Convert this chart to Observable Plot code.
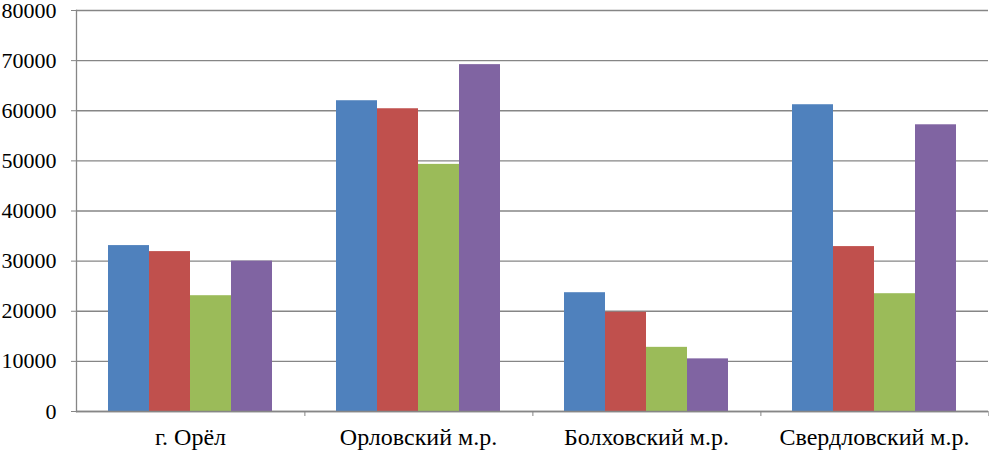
<!DOCTYPE html>
<html>
<head>
<meta charset="utf-8">
<script src="https://cdn.jsdelivr.net/npm/d3@7"></script>
<script src="https://cdn.jsdelivr.net/npm/@observablehq/plot@0.6"></script>
<style>
  html, body { margin: 0; padding: 0; background: #fff; }
  #chart svg { display: block; }
</style>
</head>
<body>
<div id="chart"></div>
<script>
const categories = ["г. Орёл", "Орловский м.р.", "Болховский м.р.", "Свердловский м.р."];
const seriesNames = ["Ряд 1", "Ряд 2", "Ряд 3", "Ряд 4"];
const series1 = [33100, 62000, 23700, 61200];
const series2 = [31900, 60400, 19800, 32900];
const series3 = [23100, 49300, 12800, 23500];
const series4 = [30000, 69200, 10500, 57200];
const yTicks = [0, 10000, 20000, 30000, 40000, 50000, 60000, 70000, 80000];
const colors = ["#4F81BD", "#C0504D", "#9BBB59", "#8064A2"];

const allSeries = [series1, series2, series3, series4];
const data = [];
categories.forEach((c, i) => {
  seriesNames.forEach((s, j) => {
    data.push({category: c, series: s, value: allSeries[j][i]});
  });
});

const W = 989, H = 451, ML = 74, MR = 0, MT = 10, MB = 40;
const facetHalf = (W - ML - MR) / categories.length / 2;
const gray = "#868686";
const font = "'Liberation Serif', 'Times New Roman', serif";

const chart = Plot.plot({
  width: W,
  height: H,
  marginLeft: ML,
  marginRight: MR,
  marginTop: MT,
  marginBottom: MB,
  style: {fontFamily: font, fontSize: "20px", background: "#fff", color: "#000"},
  fx: {domain: categories, padding: 0, label: null},
  x: {domain: seriesNames, paddingInner: 0, paddingOuter: 0.77, axis: null},
  y: {domain: [0, 80000], label: null},
  color: {domain: seriesNames, range: colors},
  marks: [
    Plot.gridY(yTicks, {stroke: gray, strokeOpacity: 1, strokeWidth: 1.3}),
    Plot.barY(data, {fx: "category", x: "series", y: "value", fill: "series", inset: 0}),
    Plot.ruleY([0], {stroke: gray, strokeWidth: 1.3}),
    Plot.frame({anchor: "left", facetAnchor: "left", stroke: gray, strokeWidth: 1.3}),
    Plot.axisY(yTicks, {tickSize: 5, tickPadding: 15, tickFormat: d => String(d), stroke: gray, fontSize: 22, label: null}),
    Plot.axisFx({anchor: "bottom", tickSize: 0, tickPadding: 16, fontSize: 24, label: null}),
    Plot.axisFx({anchor: "bottom", tickSize: 5, text: null, dx: facetHalf, stroke: gray, label: null})
  ]
});
document.getElementById("chart").appendChild(chart);
</script>
</body>
</html>
